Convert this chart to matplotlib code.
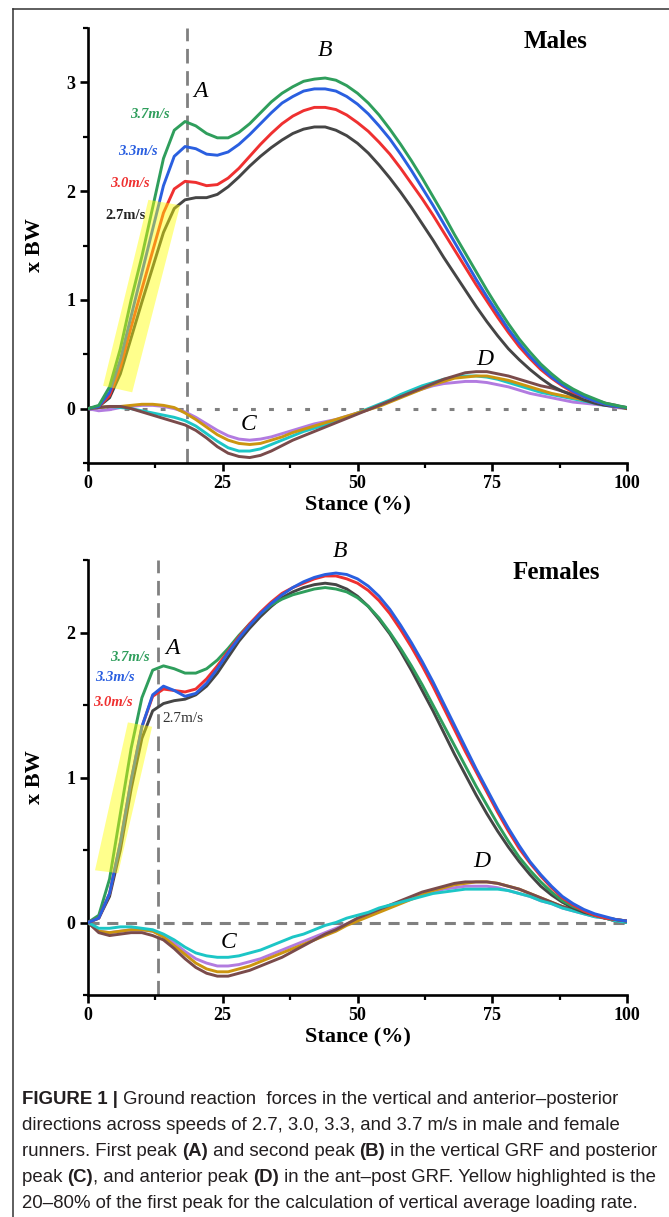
import numpy as np
import matplotlib
matplotlib.use("Agg")
import matplotlib.pyplot as plt
from matplotlib import font_manager
from matplotlib.lines import Line2D

plt.rcParams['lines.scale_dashes'] = False

# ---------------- data ----------------
stance = list(range(0, 101, 2))

# Males vertical GRF (x BW)
m_v37 = [0.00,0.03,0.20,0.55,1.00,1.40,1.85,2.30,2.56,2.64,2.60,2.53,2.49,2.49,2.54,2.62,2.72,2.82,2.90,2.96,3.01,3.03,3.04,3.02,2.97,2.90,2.81,2.70,2.57,2.43,2.28,2.12,1.95,1.78,1.60,1.43,1.26,1.09,0.93,0.78,0.64,0.52,0.41,0.32,0.24,0.18,0.13,0.09,0.05,0.03,0.01]
m_v33 = [0.00,0.02,0.15,0.45,0.85,1.25,1.65,2.05,2.32,2.41,2.39,2.34,2.33,2.36,2.43,2.52,2.62,2.72,2.81,2.87,2.92,2.94,2.94,2.92,2.87,2.80,2.71,2.60,2.48,2.34,2.19,2.03,1.87,1.70,1.53,1.36,1.19,1.03,0.88,0.73,0.60,0.48,0.38,0.29,0.22,0.16,0.11,0.07,0.04,0.02,0.01]
m_v30 = [0.00,0.02,0.12,0.38,0.75,1.10,1.45,1.80,2.02,2.09,2.08,2.05,2.06,2.12,2.21,2.32,2.43,2.53,2.62,2.69,2.74,2.77,2.77,2.75,2.70,2.63,2.55,2.45,2.34,2.21,2.07,1.93,1.78,1.62,1.46,1.30,1.14,0.99,0.84,0.70,0.57,0.46,0.36,0.28,0.21,0.15,0.11,0.07,0.04,0.02,0.01]
m_v27 = [0.00,0.02,0.10,0.32,0.65,0.98,1.30,1.62,1.84,1.92,1.94,1.94,1.97,2.04,2.13,2.23,2.32,2.40,2.47,2.53,2.57,2.59,2.59,2.56,2.51,2.44,2.35,2.24,2.12,1.99,1.85,1.70,1.55,1.39,1.24,1.09,0.94,0.80,0.67,0.55,0.45,0.36,0.28,0.21,0.16,0.12,0.08,0.05,0.03,0.02,0.01]

# Males anterior-posterior GRF
m_ap_purple = [0.00,-0.02,-0.01,0.01,0.02,0.03,0.03,0.02,0.00,-0.03,-0.08,-0.14,-0.20,-0.25,-0.28,-0.29,-0.28,-0.26,-0.23,-0.20,-0.17,-0.14,-0.12,-0.10,-0.07,-0.04,-0.01,0.03,0.07,0.11,0.15,0.18,0.21,0.23,0.24,0.25,0.25,0.24,0.22,0.20,0.17,0.14,0.12,0.10,0.08,0.06,0.05,0.04,0.03,0.01,0.00]
m_ap_gold = [0.00,0.01,0.02,0.02,0.03,0.04,0.04,0.03,0.01,-0.04,-0.10,-0.17,-0.24,-0.29,-0.32,-0.33,-0.32,-0.29,-0.26,-0.22,-0.19,-0.16,-0.13,-0.10,-0.07,-0.04,-0.01,0.02,0.06,0.10,0.14,0.18,0.22,0.25,0.28,0.29,0.30,0.30,0.28,0.26,0.23,0.20,0.17,0.14,0.12,0.10,0.08,0.06,0.04,0.02,0.00]
m_ap_cyan = [0.00,0.01,0.02,0.01,0.00,-0.02,-0.04,-0.06,-0.08,-0.11,-0.16,-0.23,-0.30,-0.36,-0.39,-0.39,-0.37,-0.33,-0.29,-0.25,-0.21,-0.18,-0.15,-0.11,-0.08,-0.04,0.00,0.04,0.08,0.13,0.17,0.21,0.24,0.27,0.29,0.30,0.30,0.29,0.27,0.24,0.21,0.18,0.15,0.13,0.11,0.09,0.07,0.05,0.03,0.02,0.00]
m_ap_brown = [0.00,0.01,0.02,0.02,0.00,-0.03,-0.06,-0.09,-0.12,-0.15,-0.20,-0.27,-0.35,-0.41,-0.44,-0.45,-0.43,-0.39,-0.34,-0.29,-0.25,-0.21,-0.17,-0.13,-0.09,-0.05,-0.01,0.03,0.07,0.11,0.15,0.19,0.23,0.27,0.30,0.33,0.34,0.34,0.32,0.30,0.27,0.24,0.21,0.19,0.16,0.13,0.11,0.08,0.05,0.03,0.00]

# Females vertical GRF
f_v37 = [0.00,0.05,0.30,0.75,1.20,1.55,1.74,1.77,1.75,1.72,1.72,1.75,1.81,1.89,1.98,2.06,2.13,2.19,2.23,2.26,2.28,2.30,2.31,2.30,2.28,2.24,2.18,2.10,2.00,1.89,1.77,1.64,1.50,1.36,1.22,1.08,0.94,0.81,0.68,0.56,0.45,0.36,0.28,0.21,0.15,0.11,0.08,0.05,0.03,0.02,0.01]
f_v33 = [0.00,0.03,0.20,0.55,0.98,1.35,1.57,1.63,1.60,1.56,1.58,1.65,1.75,1.86,1.96,2.05,2.13,2.20,2.26,2.31,2.35,2.38,2.40,2.41,2.40,2.37,2.32,2.25,2.16,2.05,1.93,1.80,1.66,1.51,1.36,1.21,1.06,0.92,0.78,0.65,0.53,0.42,0.33,0.25,0.18,0.13,0.09,0.06,0.04,0.02,0.01]
f_v30 = [0.00,0.03,0.20,0.55,0.98,1.35,1.56,1.61,1.60,1.59,1.61,1.68,1.77,1.87,1.97,2.06,2.14,2.21,2.27,2.31,2.34,2.37,2.39,2.39,2.37,2.34,2.29,2.22,2.13,2.02,1.90,1.77,1.63,1.48,1.33,1.18,1.04,0.90,0.76,0.63,0.51,0.41,0.32,0.24,0.17,0.12,0.08,0.05,0.03,0.02,0.01]
f_v27 = [0.00,0.03,0.18,0.50,0.92,1.27,1.46,1.51,1.53,1.54,1.57,1.63,1.72,1.83,1.94,2.03,2.11,2.18,2.24,2.28,2.31,2.33,2.34,2.33,2.30,2.25,2.18,2.09,1.99,1.87,1.74,1.60,1.46,1.31,1.16,1.02,0.88,0.75,0.63,0.52,0.42,0.33,0.25,0.19,0.14,0.10,0.07,0.05,0.03,0.02,0.01]

# Females anterior-posterior GRF
f_ap_purple = [0.00,-0.06,-0.07,-0.06,-0.05,-0.05,-0.06,-0.09,-0.14,-0.20,-0.25,-0.28,-0.30,-0.30,-0.29,-0.27,-0.25,-0.22,-0.19,-0.16,-0.13,-0.10,-0.07,-0.04,-0.01,0.02,0.05,0.08,0.11,0.14,0.17,0.19,0.21,0.23,0.24,0.25,0.25,0.25,0.24,0.22,0.20,0.18,0.15,0.13,0.10,0.08,0.06,0.04,0.03,0.01,0.00]
f_ap_gold = [0.00,-0.06,-0.07,-0.06,-0.05,-0.05,-0.06,-0.10,-0.16,-0.22,-0.28,-0.32,-0.34,-0.34,-0.32,-0.30,-0.27,-0.24,-0.21,-0.18,-0.15,-0.12,-0.09,-0.06,-0.02,0.01,0.04,0.07,0.10,0.13,0.16,0.19,0.22,0.24,0.26,0.27,0.28,0.28,0.27,0.25,0.23,0.20,0.17,0.14,0.11,0.09,0.07,0.05,0.03,0.01,0.00]
f_ap_cyan = [0.00,-0.04,-0.04,-0.03,-0.03,-0.04,-0.05,-0.08,-0.12,-0.17,-0.21,-0.23,-0.24,-0.24,-0.23,-0.21,-0.19,-0.16,-0.13,-0.10,-0.08,-0.05,-0.02,0.00,0.03,0.05,0.07,0.10,0.12,0.14,0.16,0.18,0.20,0.21,0.22,0.23,0.23,0.23,0.23,0.22,0.20,0.18,0.15,0.13,0.10,0.08,0.06,0.04,0.03,0.01,0.00]
f_ap_brown = [0.00,-0.07,-0.09,-0.08,-0.07,-0.07,-0.09,-0.12,-0.18,-0.25,-0.31,-0.35,-0.37,-0.37,-0.35,-0.33,-0.30,-0.27,-0.24,-0.20,-0.16,-0.12,-0.08,-0.05,-0.01,0.03,0.06,0.09,0.12,0.15,0.18,0.21,0.23,0.25,0.27,0.28,0.28,0.28,0.27,0.25,0.23,0.20,0.17,0.14,0.11,0.09,0.07,0.05,0.03,0.01,0.00]

# 20-80% first-peak highlight regions (stance %, x BW)
m_hl_x = [2.8, 8.2, 17.1, 11.2]
m_hl_y = [0.21, 0.15, 1.87, 1.92]
f_hl_x = [1.3, 5.6, 11.9, 7.4]
f_hl_y = [0.36, 0.34, 1.35, 1.38]

# first-peak markers (stance %)
m_peak_x = 18.4
f_peak_x = 13.0

speed_labels = ["3.7m/s", "3.3m/s", "3.0m/s", "2.7m/s"]
x_ticks = [0, 25, 50, 75, 100]
m_y_ticks = [0, 1, 2, 3]
f_y_ticks = [0, 1, 2]

# ---------------- style ----------------
C_GREEN = '#2f9e5c'
C_BLUE = '#2a5fe0'
C_RED = '#ef3030'
C_GRAY = '#454545'
C_PURPLE = '#b27be0'
C_GOLD = '#cc9510'
C_CYAN = '#1cc6c6'
C_BROWN = '#7a4b4b'
C_DASH = '#808080'

SERIF = 'Liberation Serif'
W, H = 669, 1217
fig = plt.figure(figsize=(W / 100, H / 100), dpi=100)

def axes_rect(left_px, top_px, right_px, bottom_px):
    return [left_px / W, 1 - bottom_px / H, (right_px - left_px) / W, (bottom_px - top_px) / H]

ax1 = fig.add_axes(axes_rect(88, 28, 627, 463))
ax2 = fig.add_axes(axes_rect(88, 560, 627, 995))

LW = 2.1

def style_axes(ax, ylim, yticks):
    ax.set_xlim(0, 100)
    ax.set_ylim(*ylim)
    for s in ['top', 'right']:
        ax.spines[s].set_visible(False)
    for s in ['left', 'bottom']:
        ax.spines[s].set_linewidth(1.9)
        ax.spines[s].set_color('black')
    ax.set_xticks(x_ticks)
    ax.set_xticks([12.5, 37.5, 62.5, 87.5], minor=True)
    ax.set_yticks(yticks)
    ax.set_yticks(np.arange(ylim[0], ylim[1] + 0.01, 0.5), minor=True)
    ax.tick_params(which='major', direction='out', length=6, width=1.9, pad=3)
    ax.tick_params(which='minor', direction='out', length=3.5, width=1.6)
    ax.set_xticklabels([str(t) for t in x_ticks], fontfamily=SERIF, fontweight='bold', fontsize=13)
    ax.set_yticklabels([str(t) for t in yticks], fontfamily=SERIF, fontweight='bold', fontsize=13)
    ax.set_xlabel('Stance (%)', fontfamily=SERIF, fontweight='bold', fontsize=16)
    ax.set_ylabel('x BW', fontfamily=SERIF, fontweight='bold', fontsize=16)
    ax.xaxis.set_label_coords(0.5, -0.075)
    ax.yaxis.set_label_coords(-0.08, 0.5)

# ---- Males ----
style_axes(ax1, (-0.5, 3.5), m_y_ticks)
ax1.plot([0, 100], [0, 0], color=C_DASH, lw=2.2, dashes=(3.5, 9.5), zorder=1)
ax1.axvline(m_peak_x, color=C_DASH, lw=2.0, dashes=(10.5, 5.5), zorder=1)
for ys, c in [(m_ap_purple, C_PURPLE), (m_ap_cyan, C_CYAN), (m_ap_gold, C_GOLD), (m_ap_brown, C_BROWN)]:
    ax1.plot(stance, ys, color=c, lw=LW, zorder=3)
for ys, c in [(m_v27, C_GRAY), (m_v30, C_RED), (m_v33, C_BLUE), (m_v37, C_GREEN)]:
    ax1.plot(stance, ys, color=c, lw=LW, zorder=3)
ax1.fill(m_hl_x, m_hl_y, color='#ffff00', alpha=0.45, lw=0, zorder=5)

ax1.text(86.8, 3.38, 'Males', fontfamily=SERIF, fontweight='bold', fontsize=18, ha='center', va='center')
for lbl, (x, y) in zip('ABCD', [(20.8, 2.92), (44.0, 3.29), (29.7, -0.15), (73.7, 0.45)]):
    ax1.text(x, y, lbl, fontfamily=SERIF, fontstyle='italic', fontsize=17, ha='center', va='center')
m_lab_pos = [(11.5, 2.70), (9.3, 2.36), (7.8, 2.07), (6.9, 1.78)]
for lbl, (x, y), c in zip(speed_labels, m_lab_pos, [C_GREEN, C_BLUE, C_RED, '#222222']):
    st = 'normal' if lbl == '2.7m/s' else 'italic'
    ax1.text(x, y, lbl, color=c, fontfamily=SERIF, fontweight='bold', fontstyle=st,
             fontsize=10.5, ha='center', va='center')

# ---- Females ----
style_axes(ax2, (-0.5, 2.5), f_y_ticks)
ax2.plot([0, 100], [0, 0], color=C_DASH, lw=2.2, dashes=(8, 5.5), zorder=1)
ax2.axvline(f_peak_x, color=C_DASH, lw=2.0, dashes=(10.5, 5.5), zorder=1)
for ys, c in [(f_ap_purple, C_PURPLE), (f_ap_gold, C_GOLD), (f_ap_brown, C_BROWN), (f_ap_cyan, C_CYAN)]:
    ax2.plot(stance, ys, color=c, lw=LW, zorder=3)
for ys, c in [(f_v27, C_GRAY), (f_v37, C_GREEN), (f_v30, C_RED), (f_v33, C_BLUE)]:
    ax2.plot(stance, ys, color=c, lw=LW, zorder=3)
ax2.fill(f_hl_x, f_hl_y, color='#ffff00', alpha=0.45, lw=0, zorder=5)

ax2.text(86.8, 2.415, 'Females', fontfamily=SERIF, fontweight='bold', fontsize=18, ha='center', va='center')
for lbl, (x, y) in zip('ABCD', [(15.6, 1.89), (46.8, 2.56), (26.0, -0.14), (73.1, 0.42)]):
    ax2.text(x, y, lbl, fontfamily=SERIF, fontstyle='italic', fontsize=17, ha='center', va='center')
f_lab_pos = [(7.8, 1.83), (5.0, 1.69), (4.6, 1.52), (17.6, 1.41)]
for lbl, (x, y), c in zip(speed_labels, f_lab_pos, [C_GREEN, C_BLUE, C_RED, '#333333']):
    if lbl == '2.7m/s':
        ax2.text(x, y, lbl, color=c, fontfamily=SERIF, fontsize=11, ha='center', va='center')
    else:
        ax2.text(x, y, lbl, color=c, fontfamily=SERIF, fontweight='bold', fontstyle='italic',
                 fontsize=10.5, ha='center', va='center')

# ---- frame ----
fig.add_artist(Line2D([13 / W, 13 / W], [0, 1 - 9 / H], transform=fig.transFigure, color='#333333', lw=1.1))
fig.add_artist(Line2D([13 / W, 1], [1 - 9 / H, 1 - 9 / H], transform=fig.transFigure, color='#333333', lw=1.1))

# ---- caption ----
names = {f.name for f in font_manager.fontManager.ttflist}
CAP_FONT = 'Liberation Sans Narrow' if 'Liberation Sans Narrow' in names else 'Liberation Sans'
caption = [
    [("FIGURE 1 |", True), (" Ground reaction  forces in the vertical and anterior\u2013posterior", False)],
    [("directions across speeds of 2.7, 3.0, 3.3, and 3.7 m/s in male and female", False)],
    [("runners. First peak ", False), ("(A)", True), (" and second peak ", False), ("(B)", True),
     (" in the vertical GRF and posterior", False)],
    [("peak ", False), ("(C)", True), (", and anterior peak ", False), ("(D)", True),
     (" in the ant\u2013post GRF. Yellow highlighted is the", False)],
    [("20\u201380% of the first peak for the calculation of vertical average loading rate.", False)],
]
renderer = fig.canvas.get_renderer()

def text_width(s, bold, size):
    t = fig.text(0, 0, 'x' + s + 'x', fontfamily=CAP_FONT, fontweight='bold' if bold else 'normal', fontsize=size)
    t2 = fig.text(0, 0, 'xx', fontfamily=CAP_FONT, fontweight='bold' if bold else 'normal', fontsize=size)
    w = t.get_window_extent(renderer).width - t2.get_window_extent(renderer).width
    t.remove(); t2.remove()
    return w

target = 598.0
base = 12.0
w0 = sum(text_width(s, b, base) for s, b in caption[1])
cap_size = base * target / w0

y0 = 1099
dy = 26.0
for i, line in enumerate(caption):
    x = 22.0
    ypx = y0 + i * dy
    for s, b in line:
        fig.text(x / W, 1 - ypx / H, s, fontfamily=CAP_FONT, fontweight='bold' if b else 'normal',
                 fontsize=cap_size, color='#231f20', va='center', ha='left')
        x += text_width(s, b, cap_size)

fig.savefig('out.png', dpi=100)
